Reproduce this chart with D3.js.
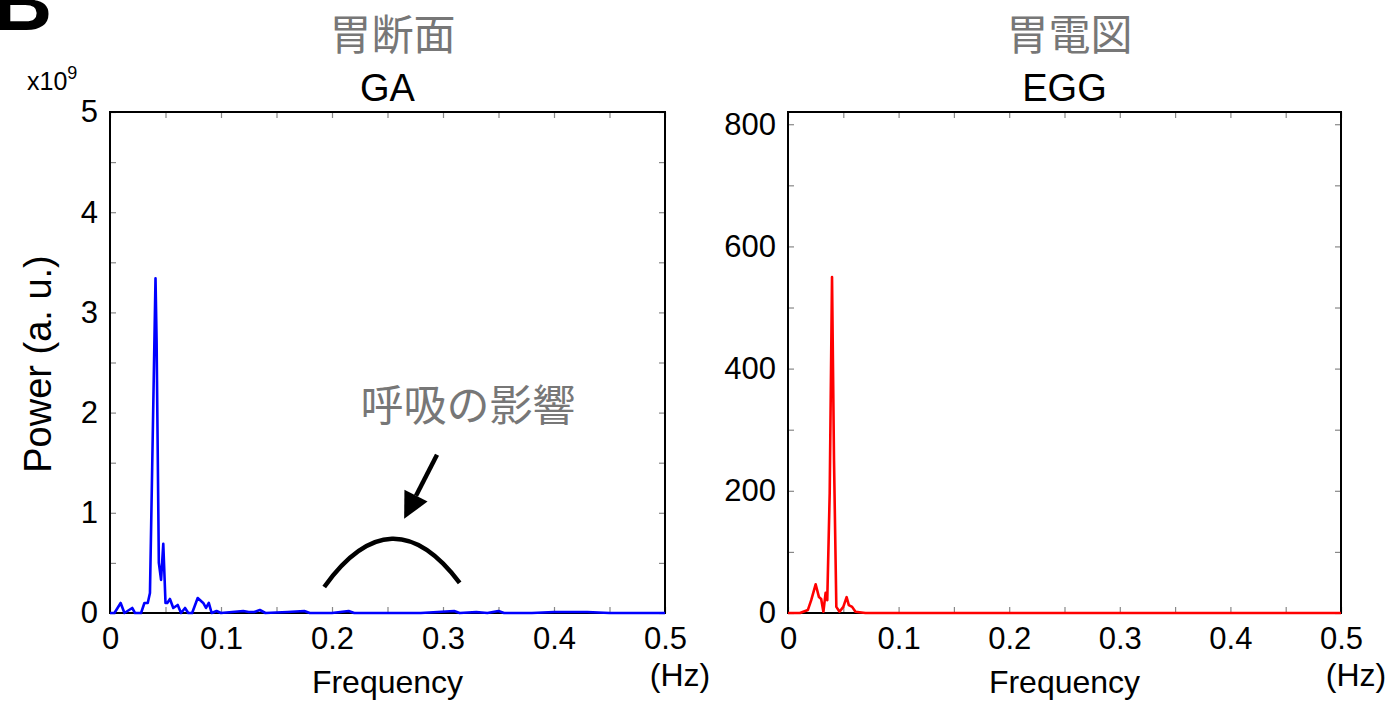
<!DOCTYPE html>
<html>
<head>
<meta charset="utf-8">
<script src="https://cdn.jsdelivr.net/npm/d3@7"></script>
<style>
  body { margin: 0; background: #fff; }
  text { font-family: "Liberation Sans", Arial, sans-serif; }
  .jp { font-family: "Noto Sans CJK JP", sans-serif; fill: #777; }
</style>
</head>
<body>
<div class="chart"></div>
<script>
// GA spectrum (blue), frequency in Hz, power in units of 1e9
var gaFreq  = [0, 0.004, 0.0096, 0.013, 0.02, 0.0225, 0.028, 0.031, 0.034, 0.036, 0.038, 0.041, 0.042, 0.044, 0.046, 0.048, 0.050, 0.0516, 0.054, 0.057, 0.061, 0.064, 0.0676, 0.0705, 0.074, 0.079, 0.084, 0.0865, 0.089, 0.0916, 0.096, 0.10, 0.11, 0.12, 0.125, 0.13, 0.135, 0.14, 0.16, 0.175, 0.18, 0.20, 0.215, 0.22, 0.25, 0.28, 0.31, 0.315, 0.33, 0.34, 0.35, 0.355, 0.38, 0.40, 0.43, 0.45, 0.47, 0.5];
var gaPower = [0, 0.0, 0.1, 0.0, 0.05, 0.0, 0.0, 0.1, 0.1, 0.2, 1.45, 3.34, 2.7, 0.5, 0.33, 0.69, 0.1, 0.1, 0.14, 0.05, 0.08, 0.0, 0.05, 0.0, 0.0, 0.15, 0.1, 0.05, 0.1, 0.0, 0.02, 0.0, 0.01, 0.02, 0.01, 0.01, 0.03, 0.0, 0.01, 0.02, 0.0, 0.0, 0.02, 0.0, 0.0, 0.0, 0.02, 0.0, 0.01, 0.0, 0.02, 0.0, 0.0, 0.01, 0.01, 0.0, 0.0, 0.0];

// EGG spectrum (red)
var eggFreq  = [0, 0.0108, 0.018, 0.021, 0.025, 0.028, 0.030, 0.032, 0.034, 0.0355, 0.0377, 0.0398, 0.0416, 0.0437, 0.0466, 0.050, 0.053, 0.055, 0.058, 0.061, 0.07, 0.5];
var eggPower = [0, 0, 5, 21, 47, 26, 23, 2, 33, 21, 196, 550, 250, 10, 2, 10, 26, 13, 10, 2, 0, 0];

var xTicks = [0, 0.1, 0.2, 0.3, 0.4, 0.5];
var xMinor = d3.range(0, 11).map(function(i) { return i * 0.05; });
var gaYTicks = [0, 1, 2, 3, 4, 5];
var gaYMinor = d3.range(0, 11).map(function(i) { return i * 0.5; });
var eggYTicks = [0, 200, 400, 600, 800];
var eggYMinor = d3.range(0, 9).map(function(i) { return i * 100; });

var svg = d3.select(".chart").append("svg")
    .attr("width", 1389)
    .attr("height", 701);

var plotTop = 112, plotBottom = 613;

function drawPanel(opt) {
    var x = d3.scaleLinear().domain([0, 0.5]).range([opt.left, opt.right]);
    var y = d3.scaleLinear().domain([0, opt.yMax]).range([plotBottom, plotTop]);
    var g = svg.append("g");

    function isMajor(list) {
        return function(d) {
            return list.some(function(v) { return Math.abs(v - d) < 1e-9; }) ? d3.format("~g")(d) : "";
        };
    }

    var ax = [
        { a: d3.axisBottom(x).tickValues(xMinor).tickFormat(isMajor(xTicks)), t: "translate(0," + plotBottom + ")" },
        { a: d3.axisTop(x).tickValues(xMinor).tickFormat(""), t: "translate(0," + plotTop + ")" },
        { a: d3.axisLeft(y).tickValues(opt.yMinor).tickFormat(isMajor(opt.yTicks)), t: "translate(" + opt.left + ",0)" },
        { a: d3.axisRight(y).tickValues(opt.yMinor).tickFormat(""), t: "translate(" + opt.right + ",0)" }
    ];
    ax.forEach(function(d, i) {
        var a = g.append("g").attr("transform", d.t)
            .call(d.a.tickSizeInner(-6).tickSizeOuter(0).tickPadding(i == 0 ? 14 : 12));
        a.select(".domain").remove();
        a.selectAll("line").attr("stroke", "#888").attr("stroke-width", 1.2);
        a.selectAll("text").attr("font-size", 31).attr("fill", "#000")
            .attr("font-family", "Liberation Sans, Arial, sans-serif");
    });

    g.append("rect")
        .attr("x", opt.left).attr("y", plotTop)
        .attr("width", opt.right - opt.left).attr("height", plotBottom - plotTop)
        .attr("fill", "none").attr("stroke", "#000").attr("stroke-width", 2);

    var line = d3.line()
        .x(function(d, i) { return x(opt.freq[i]); })
        .y(function(d) { return y(d); });
    g.append("path")
        .datum(opt.power)
        .attr("d", line)
        .attr("fill", "none")
        .attr("stroke", opt.color)
        .attr("stroke-width", 2.6)
        .attr("stroke-linejoin", "round");

    var cx = (opt.left + opt.right) / 2;
    g.append("text").attr("class", "jp").attr("x", cx + 5).attr("y", 50)
        .attr("text-anchor", "middle").attr("font-size", 42).text(opt.jp);
    g.append("text").attr("x", cx).attr("y", 101)
        .attr("text-anchor", "middle").attr("font-size", 38).text(opt.title);
    g.append("text").attr("x", cx).attr("y", 693)
        .attr("text-anchor", "middle").attr("font-size", 32).text("Frequency");
    g.append("text").attr("x", opt.right + 15).attr("y", 686)
        .attr("text-anchor", "middle").attr("font-size", 32).text("(Hz)");

    return { x: x, y: y, g: g };
}

var ga = drawPanel({ left: 110, right: 665, yMax: 5, yTicks: gaYTicks, yMinor: gaYMinor,
    freq: gaFreq, power: gaPower, color: "#0000ff", jp: "胃断面", title: "GA" });
drawPanel({ left: 788, right: 1341, yMax: 820, yTicks: eggYTicks, yMinor: eggYMinor,
    freq: eggFreq, power: eggPower, color: "#ff0000", jp: "胃電図", title: "EGG" });

// panel letter (cut off at the top, as in the figure) and exponent
svg.append("text").attr("x", -7).attr("y", 30)
    .attr("font-size", 82).attr("font-weight", "bold").text("B");
var ex = svg.append("text").attr("x", 27).attr("y", 90).attr("font-size", 25);
ex.append("tspan").text("x10");
ex.append("tspan").attr("dy", -11).attr("font-size", 18).text("9");

svg.append("text")
    .attr("transform", "translate(51,364) rotate(-90)")
    .attr("text-anchor", "middle").attr("font-size", 38).text("Power (a. u.)");

// respiration annotation
var gx = ga.x, gy = ga.y;
svg.append("path")
    .attr("d", "M" + gx(0.193) + "," + gy(0.26) +
        " Q" + gx(0.254) + "," + gy(1.2) + " " + gx(0.315) + "," + gy(0.30))
    .attr("fill", "none").attr("stroke", "#000").attr("stroke-width", 4.5);

var ax0 = gx(0.2946), ay0 = gy(1.58), ax1 = gx(0.265), ay1 = gy(0.94);
var ang = Math.atan2(ay1 - ay0, ax1 - ax0);
var hl = 26, hw = 13;
var bx = ax1 - hl * Math.cos(ang), by = ay1 - hl * Math.sin(ang);
svg.append("line")
    .attr("x1", ax0).attr("y1", ay0).attr("x2", bx).attr("y2", by)
    .attr("stroke", "#000").attr("stroke-width", 4.5);
svg.append("path")
    .attr("d", "M" + ax1 + "," + ay1 +
        " L" + (bx + hw * Math.sin(ang)) + "," + (by - hw * Math.cos(ang)) +
        " L" + (bx - hw * Math.sin(ang)) + "," + (by + hw * Math.cos(ang)) + "Z")
    .attr("fill", "#000");

svg.append("text").attr("class", "jp")
    .attr("x", 468).attr("y", 421)
    .attr("text-anchor", "middle").attr("font-size", 43).text("呼吸の影響");
</script>
</body>
</html>
